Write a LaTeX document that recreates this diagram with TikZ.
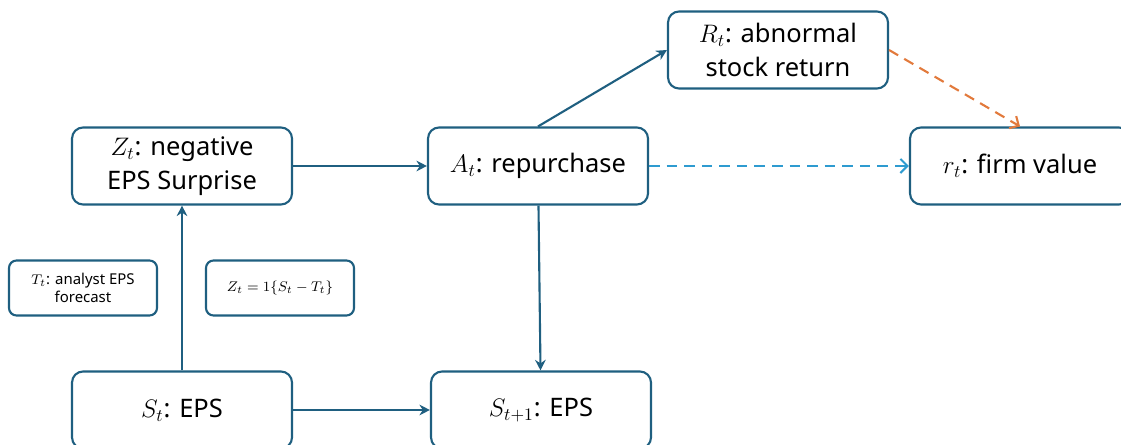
\documentclass[tikz,border=0pt]{standalone}
\usepackage{fontspec}
\setmainfont{Noto Sans}
\usetikzlibrary{arrows.meta, positioning}
\definecolor{boxblue}{HTML}{1F5F80}
\definecolor{dashblue}{HTML}{2E9BD0}
\definecolor{dashorange}{HTML}{E27A3C}

\begin{document}
\begin{tikzpicture}
	[
	x = 0.02cm, y = -0.02cm,
	var/.style = {draw = boxblue, line width = 1.2pt, rounded corners = 0.22cm, align = center,
		minimum width = 4.4cm, minimum height = 1.54cm, inner sep = 2pt, font = \fontsize{14.5}{19}\selectfont},
	note/.style = {draw = boxblue, line width = 1.2pt, rounded corners = 0.15cm, align = center,
		minimum width = 2.96cm, minimum height = 1.1cm, inner sep = 2pt, font = \fontsize{8.5}{10}\selectfont},
	tip/.style = {
		draw = boxblue, line width = 1.2pt, -{Stealth[width=6pt,length=6pt]}
	},
	dtip/.style = {
		line width = 1.2pt, dashed, dash pattern = on 6pt off 4pt, -{Straight Barb[width=8pt,length=4pt]}
	}
	]
	\useasboundingbox (0, 0) rectangle (1121, 445);
	
	\node[var] (zt) at (182, 166) {$Z_t$: negative\\ EPS Surprise};
	\node[var] (at) at (538, 166) {$A_t$: repurchase};
	\node[var] (Rt) at (778, 50) {$R_t$: abnormal\\ stock return};
	\node[var] (rt) at (1020, 166) {$r_t$: firm value};
	\node[var] (st) at (182, 410) {$S_t$: EPS};
	\node[var] (st1) at (541, 410) {$S_{t+1}$: EPS};
	\node[note] (tt) at (83, 288) {$T_t$: analyst EPS\\ forecast};
	\node[note] (zdef) at (280, 288) {$Z_t = 1\{S_t - T_t\}$};
	
	\draw[tip] (st) -- (zt);
	\draw[tip] (st.east) -- (st1.west);
	\draw[tip] (zt) -- (at);
	\draw[tip] (at) -- (st1);
	\draw[tip] (at.north) -- (Rt.west);
	\draw[dtip, dashblue] (at) -- (rt);
	\draw[dtip, dashorange] (Rt.east) -- (rt.north);
	\end{tikzpicture}
\end{document}
